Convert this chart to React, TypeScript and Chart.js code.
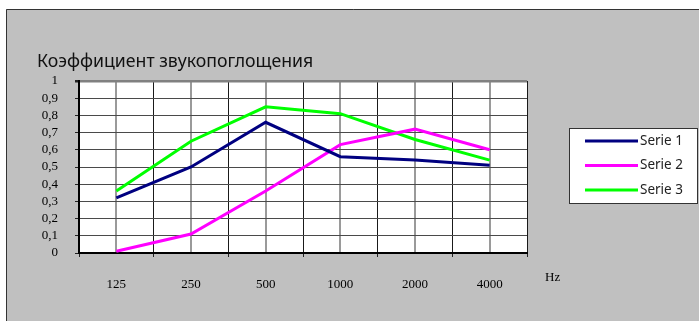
import React, { useEffect, useRef } from "react";
import { Chart, registerables } from "chart.js";

Chart.register(...registerables);

const categories = ["125", "250", "500", "1000", "2000", "4000"];
const serie1 = [0.32, 0.5, 0.76, 0.56, 0.54, 0.51];
const serie2 = [0.01, 0.11, 0.36, 0.63, 0.72, 0.6];
const serie3 = [0.36, 0.65, 0.85, 0.81, 0.66, 0.54];
const seriesNames = ["Serie 1", "Serie 2", "Serie 3"];
const seriesColors = ["#000080", "#ff00ff", "#00ff00"];
const titleText = "Коэффициент звукопоглощения";
const unitText = "Hz";

const W = 699;
const H = 321;

export default function App() {
  const ref = useRef<HTMLCanvasElement | null>(null);

  useEffect(() => {
    if (!ref.current) return;

    const decor = {
      id: "decor",
      beforeDraw(chart: any) {
        const ctx = chart.ctx;
        const a = chart.chartArea;
        ctx.save();
        ctx.fillStyle = "#ffffff";
        ctx.fillRect(0, 0, W, H);
        ctx.fillStyle = "#c0c0c0";
        ctx.fillRect(6, 9, W, H);
        ctx.strokeStyle = "#333333";
        ctx.lineWidth = 1;
        ctx.beginPath();
        ctx.moveTo(6.5, H + 5);
        ctx.lineTo(6.5, 9.5);
        ctx.lineTo(W + 5, 9.5);
        ctx.stroke();
        ctx.fillStyle = "#ffffff";
        ctx.fillRect(a.left, a.top, a.right - a.left, a.bottom - a.top);
        ctx.restore();
      },
      afterDraw(chart: any) {
        const ctx = chart.ctx;
        ctx.save();
        // title
        ctx.fillStyle = "#111111";
        ctx.font = "17.7px 'Noto Sans'";
        ctx.textAlign = "left";
        ctx.textBaseline = "alphabetic";
        ctx.fillText(titleText, 37, 67);
        // unit
        ctx.font = "13px 'Liberation Serif'";
        ctx.fillStyle = "#000000";
        ctx.fillText(unitText, 545, 281);
        // legend
        const lx = 569.5, ly = 128.5, lw = 128, lh = 75;
        ctx.fillStyle = "#ffffff";
        ctx.fillRect(lx, ly, lw, lh);
        ctx.strokeStyle = "#333333";
        ctx.lineWidth = 1;
        ctx.strokeRect(lx, ly, lw, lh);
        chart.data.datasets.forEach((ds: any, i: number) => {
          const y = 141 + i * 24.5;
          ctx.strokeStyle = ds.borderColor;
          ctx.lineWidth = 3;
          ctx.beginPath();
          ctx.moveTo(585, y);
          ctx.lineTo(638, y);
          ctx.stroke();
          ctx.fillStyle = "#222222";
          ctx.font = "13.5px 'Noto Sans'";
          ctx.textBaseline = "middle";
          ctx.fillText(ds.label, 640, y);
        });
        ctx.restore();
      },
    };

    const chart = new Chart(ref.current, {
      type: "line",
      data: {
        labels: categories,
        datasets: [serie1, serie2, serie3].map((d, i) => ({
          label: seriesNames[i],
          data: d,
          borderColor: seriesColors[i],
          backgroundColor: seriesColors[i],
          borderWidth: 3,
          pointRadius: 0,
          tension: 0,
          fill: false,
        })),
      },
      options: {
        responsive: false,
        animation: false,
        events: [],
        layout: { padding: { left: 0, top: 81, right: 172, bottom: 18 } },
        plugins: {
          legend: { display: false },
          title: { display: false },
          tooltip: { enabled: false },
        },
        scales: {
          x: {
            type: "category",
            offset: true,
            position: "bottom",
            grid: {
              offset: true,
              drawTicks: true,
              tickLength: 4,
              tickColor: "#222222",
              color: (c: any) => (c.index === categories.length ? "#808080" : "#1a1a1a"),
              lineWidth: (c: any) => (c.index === categories.length ? 2.5 : 1),
            },
            border: { display: true, color: "#000000", width: 2 },
            ticks: {
              color: "#000000",
              font: { family: "'Liberation Serif'", size: 13 },
              padding: 20,
              maxRotation: 0,
              autoSkip: false,
            },
            afterFit: (s: any) => {
              s.height = 50;
            },
          },
          x2: {
            type: "category",
            labels: categories,
            offset: true,
            position: "top",
            grid: {
              offset: false,
              drawTicks: false,
              color: "#9a9a9a",
              lineWidth: 2,
            },
            border: { display: false },
            ticks: { display: false },
            afterFit: (s: any) => {
              s.height = 0;
            },
          },
          y: {
            min: 0,
            max: 1,
            grid: {
              drawTicks: true,
              tickLength: 4,
              tickColor: "#222222",
              color: (c: any) => (c.tick && c.tick.value >= 0.999 ? "#808080" : "#4a4a4a"),
              lineWidth: (c: any) => (c.tick && c.tick.value >= 0.999 ? 2.5 : 1),
            },
            border: { display: true, color: "#000000", width: 2 },
            ticks: {
              stepSize: 0.1,
              autoSkip: false,
              color: "#000000",
              padding: 17,
              font: { family: "'Liberation Serif'", size: 13 },
              callback: (v: any) => Number(Number(v).toFixed(1)).toString().replace(".", ","),
            },
            afterFit: (s: any) => {
              s.width = 79;
            },
          },
        },
      },
      plugins: [decor],
    });

    return () => chart.destroy();
  }, []);

  return (
    <canvas
      ref={ref}
      width={W}
      height={H}
      style={{ position: "fixed", left: 0, top: 0, width: W, height: H, display: "block" }}
    />
  );
}
